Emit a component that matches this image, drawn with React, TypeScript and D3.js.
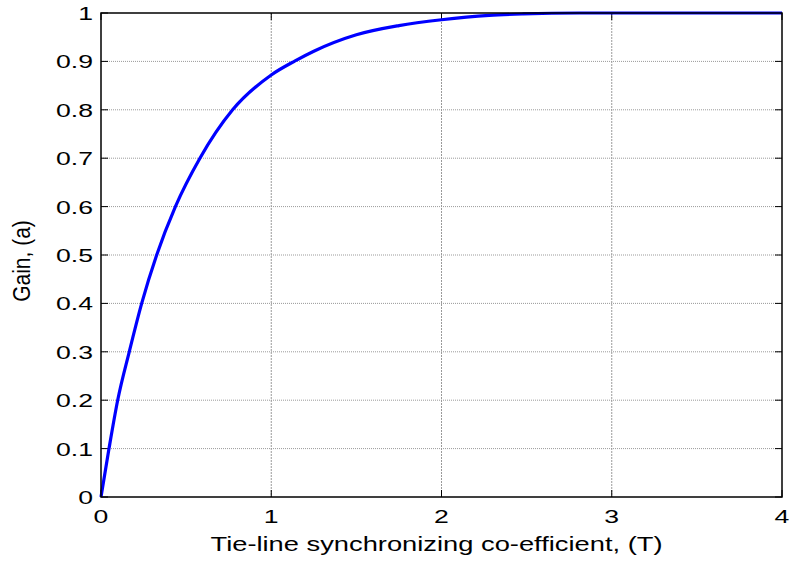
import React from "react";
import * as d3 from "d3";

// Gain (a) versus tie-line synchronizing coefficient (T)
const tValues = [0, 0.047, 0.098, 0.166, 0.239, 0.327, 0.437, 0.581, 0.773, 1.0, 1.14, 1.25, 1.5, 1.75, 2.0, 2.28, 2.48, 2.81, 4.0];
const gainValues = [0, 0.1, 0.2, 0.3, 0.4, 0.5, 0.6, 0.7, 0.8, 0.872, 0.901, 0.921, 0.955, 0.974, 0.986, 0.995, 0.998, 1, 1];

const xTicks = [0, 1, 2, 3, 4];
const yTicks = [0, 0.1, 0.2, 0.3, 0.4, 0.5, 0.6, 0.7, 0.8, 0.9, 1];

const xLabel = "Tie-line synchronizing co-efficient, (T)";
const yLabel = "Gain, (a)";

const W = 792;
const H = 563;
const left = 101;
const right = 782;
const top = 13;
const bottom = 497;
const tickLen = 7;
const stretch = 1.4;
const font = "Liberation Sans, Arial, Helvetica, sans-serif";

export default function App() {
  const x = d3.scaleLinear().domain([0, 4]).range([left, right]);
  const y = d3.scaleLinear().domain([0, 1]).range([bottom, top]);

  const points = tValues.map((t, i) => [t, gainValues[i]] as [number, number]);
  const line = d3
    .line<[number, number]>()
    .x((d) => x(d[0]))
    .y((d) => y(d[1]))
    .curve(d3.curveMonotoneX);

  return (
    <svg
      width={W}
      height={H}
      style={{ position: "absolute", left: 0, top: 0, background: "#fff" }}
    >
      <rect x={0} y={0} width={W} height={H} fill="#fff" />
      {/* grid */}
      {yTicks.slice(1, -1).map((v) => (
        <line
          key={"gy" + v}
          x1={left}
          x2={right}
          y1={y(v)}
          y2={y(v)}
          stroke="#9a9a9a"
          strokeWidth={1}
          strokeDasharray="1 1"
        />
      ))}
      {xTicks.slice(1, -1).map((v) => (
        <line
          key={"gx" + v}
          x1={x(v)}
          x2={x(v)}
          y1={top}
          y2={bottom}
          stroke="#9a9a9a"
          strokeWidth={1}
          strokeDasharray="2 1"
        />
      ))}
      {/* ticks inside the box */}
      {yTicks.map((v) => (
        <g key={"ty" + v}>
          <line x1={left} x2={left + tickLen} y1={y(v)} y2={y(v)} stroke="#000" strokeWidth={1} />
          <line x1={right} x2={right - tickLen} y1={y(v)} y2={y(v)} stroke="#000" strokeWidth={1} />
        </g>
      ))}
      {xTicks.map((v) => (
        <g key={"tx" + v}>
          <line x1={x(v)} x2={x(v)} y1={bottom} y2={bottom - tickLen} stroke="#000" strokeWidth={1} />
          <line x1={x(v)} x2={x(v)} y1={top} y2={top + tickLen} stroke="#000" strokeWidth={1} />
        </g>
      ))}
      {/* data curve */}
      <path d={line(points) ?? ""} fill="none" stroke="#0000ff" strokeWidth={3.2} strokeLinejoin="round" />
      {/* axes box */}
      <rect x={left} y={top} width={right - left} height={bottom - top} fill="none" stroke="#000" strokeWidth={1.5} />
      {/* tick labels */}
      {yTicks.map((v) => (
        <text
          key={"ly" + v}
          transform={`translate(${left - 8},${y(v) + 7}) scale(${stretch},1)`}
          textAnchor="end"
          fontFamily={font}
          fontSize={19}
          fill="#000"
        >
          {d3.format("")(v)}
        </text>
      ))}
      {xTicks.map((v) => (
        <text
          key={"lx" + v}
          transform={`translate(${x(v)},${523}) scale(${stretch},1)`}
          textAnchor="middle"
          fontFamily={font}
          fontSize={19}
          fill="#000"
        >
          {v}
        </text>
      ))}
      {/* axis titles */}
      <text
        transform={`translate(${436.5},${551}) scale(${stretch},1)`}
        textAnchor="middle"
        fontFamily={font}
        fontSize={19.5}
        fill="#000"
      >
        {xLabel}
      </text>
      <text
        transform={`translate(${30},${261}) scale(1.15,1) rotate(-90)`}
        textAnchor="middle"
        fontFamily={font}
        fontSize={21}
        fill="#000"
      >
        {yLabel}
      </text>
    </svg>
  );
}
